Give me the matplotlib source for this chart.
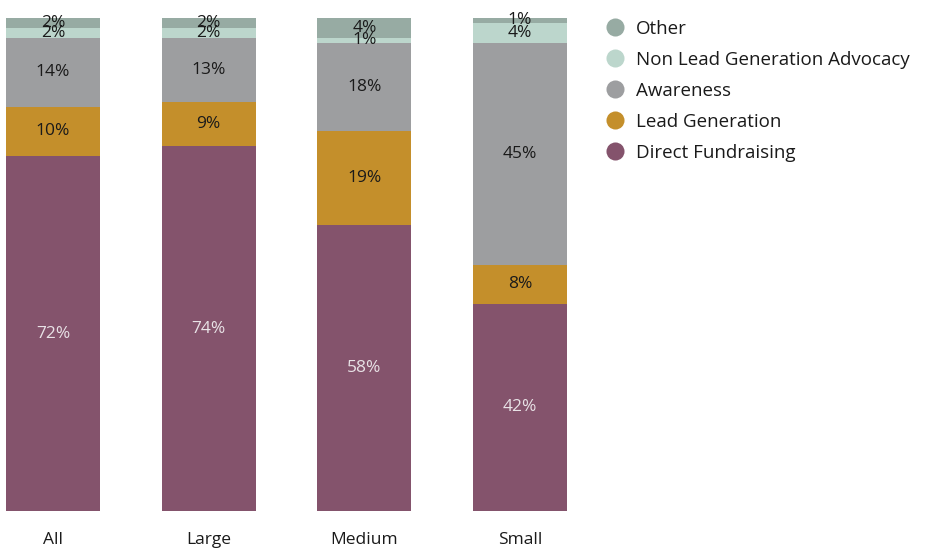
import matplotlib.pyplot as plt
from matplotlib.lines import Line2D


CATEGORIES = ["All", "Large", "Medium", "Small"]

SERIES = [
    "Direct Fundraising",
    "Lead Generation",
    "Awareness",
    "Non Lead Generation Advocacy",
    "Other",
]

DIRECT_FUNDRAISING = [72, 74, 58, 42]
LEAD_GENERATION = [10, 9, 19, 8]
AWARENESS = [14, 13, 18, 45]
NON_LEAD_ADVOCACY = [2, 2, 1, 4]
OTHER = [2, 2, 4, 1]

COLORS = {
    "Direct Fundraising": "#84536c",
    "Lead Generation": "#c48f2b",
    "Awareness": "#9d9ea0",
    "Non Lead Generation Advocacy": "#bcd6cc",
    "Other": "#97aba3",
}

TEXT_COLORS = {
    "Direct Fundraising": "#e8e2e6",
    "Lead Generation": "#1a1a1a",
    "Awareness": "#1a1a1a",
    "Non Lead Generation Advocacy": "#1a1a1a",
    "Other": "#1a1a1a",
}


def main():
    plt.rcParams["font.family"] = ["Open Sans", "DejaVu Sans"]

    values = {
        "Direct Fundraising": DIRECT_FUNDRAISING,
        "Lead Generation": LEAD_GENERATION,
        "Awareness": AWARENESS,
        "Non Lead Generation Advocacy": NON_LEAD_ADVOCACY,
        "Other": OTHER,
    }

    fig = plt.figure(figsize=(9.3, 5.49), dpi=100)
    # axes placed in pixels: x 0..580, y 18..511 (top-down)
    ax = fig.add_axes([0, (549 - 511) / 549, 580 / 930, (511 - 18) / 549])

    x = list(range(len(CATEGORIES)))
    bottoms = [0] * len(CATEGORIES)

    for name in SERIES:
        vals = values[name]
        ax.bar(x, vals, bottom=bottoms, width=0.604, color=COLORS[name], linewidth=0)
        for xi, v, b in zip(x, vals, bottoms):
            ax.text(
                xi, b + v / 2, f"{v}%",
                ha="center", va="center",
                fontsize=12.5, color=TEXT_COLORS[name],
            )
        bottoms = [b + v for b, v in zip(bottoms, vals)]

    ax.set_xlim(-0.34, 3.385)
    ax.set_ylim(0, 100)
    ax.set_xticks(x)
    ax.set_xticklabels(CATEGORIES, fontsize=12.5, color="#1a1a1a")
    ax.tick_params(axis="x", length=0, pad=15)
    ax.set_yticks([])
    for spine in ax.spines.values():
        spine.set_visible(False)

    handles = [
        Line2D([], [], marker="o", linestyle="none", markersize=13,
               markerfacecolor=COLORS[name], markeredgewidth=0)
        for name in reversed(SERIES)
    ]
    fig.legend(
        handles, list(reversed(SERIES)),
        loc="upper left", bbox_to_anchor=(602 / 930, 1 - 20 / 549),
        frameon=False, fontsize=13.5, labelspacing=0.69,
        handletextpad=0.4, handlelength=1.4, borderaxespad=0, borderpad=0,
        labelcolor="#1a1a1a",
    )

    fig.savefig("out.png", dpi=100)
    plt.close(fig)


if __name__ == "__main__":
    main()
